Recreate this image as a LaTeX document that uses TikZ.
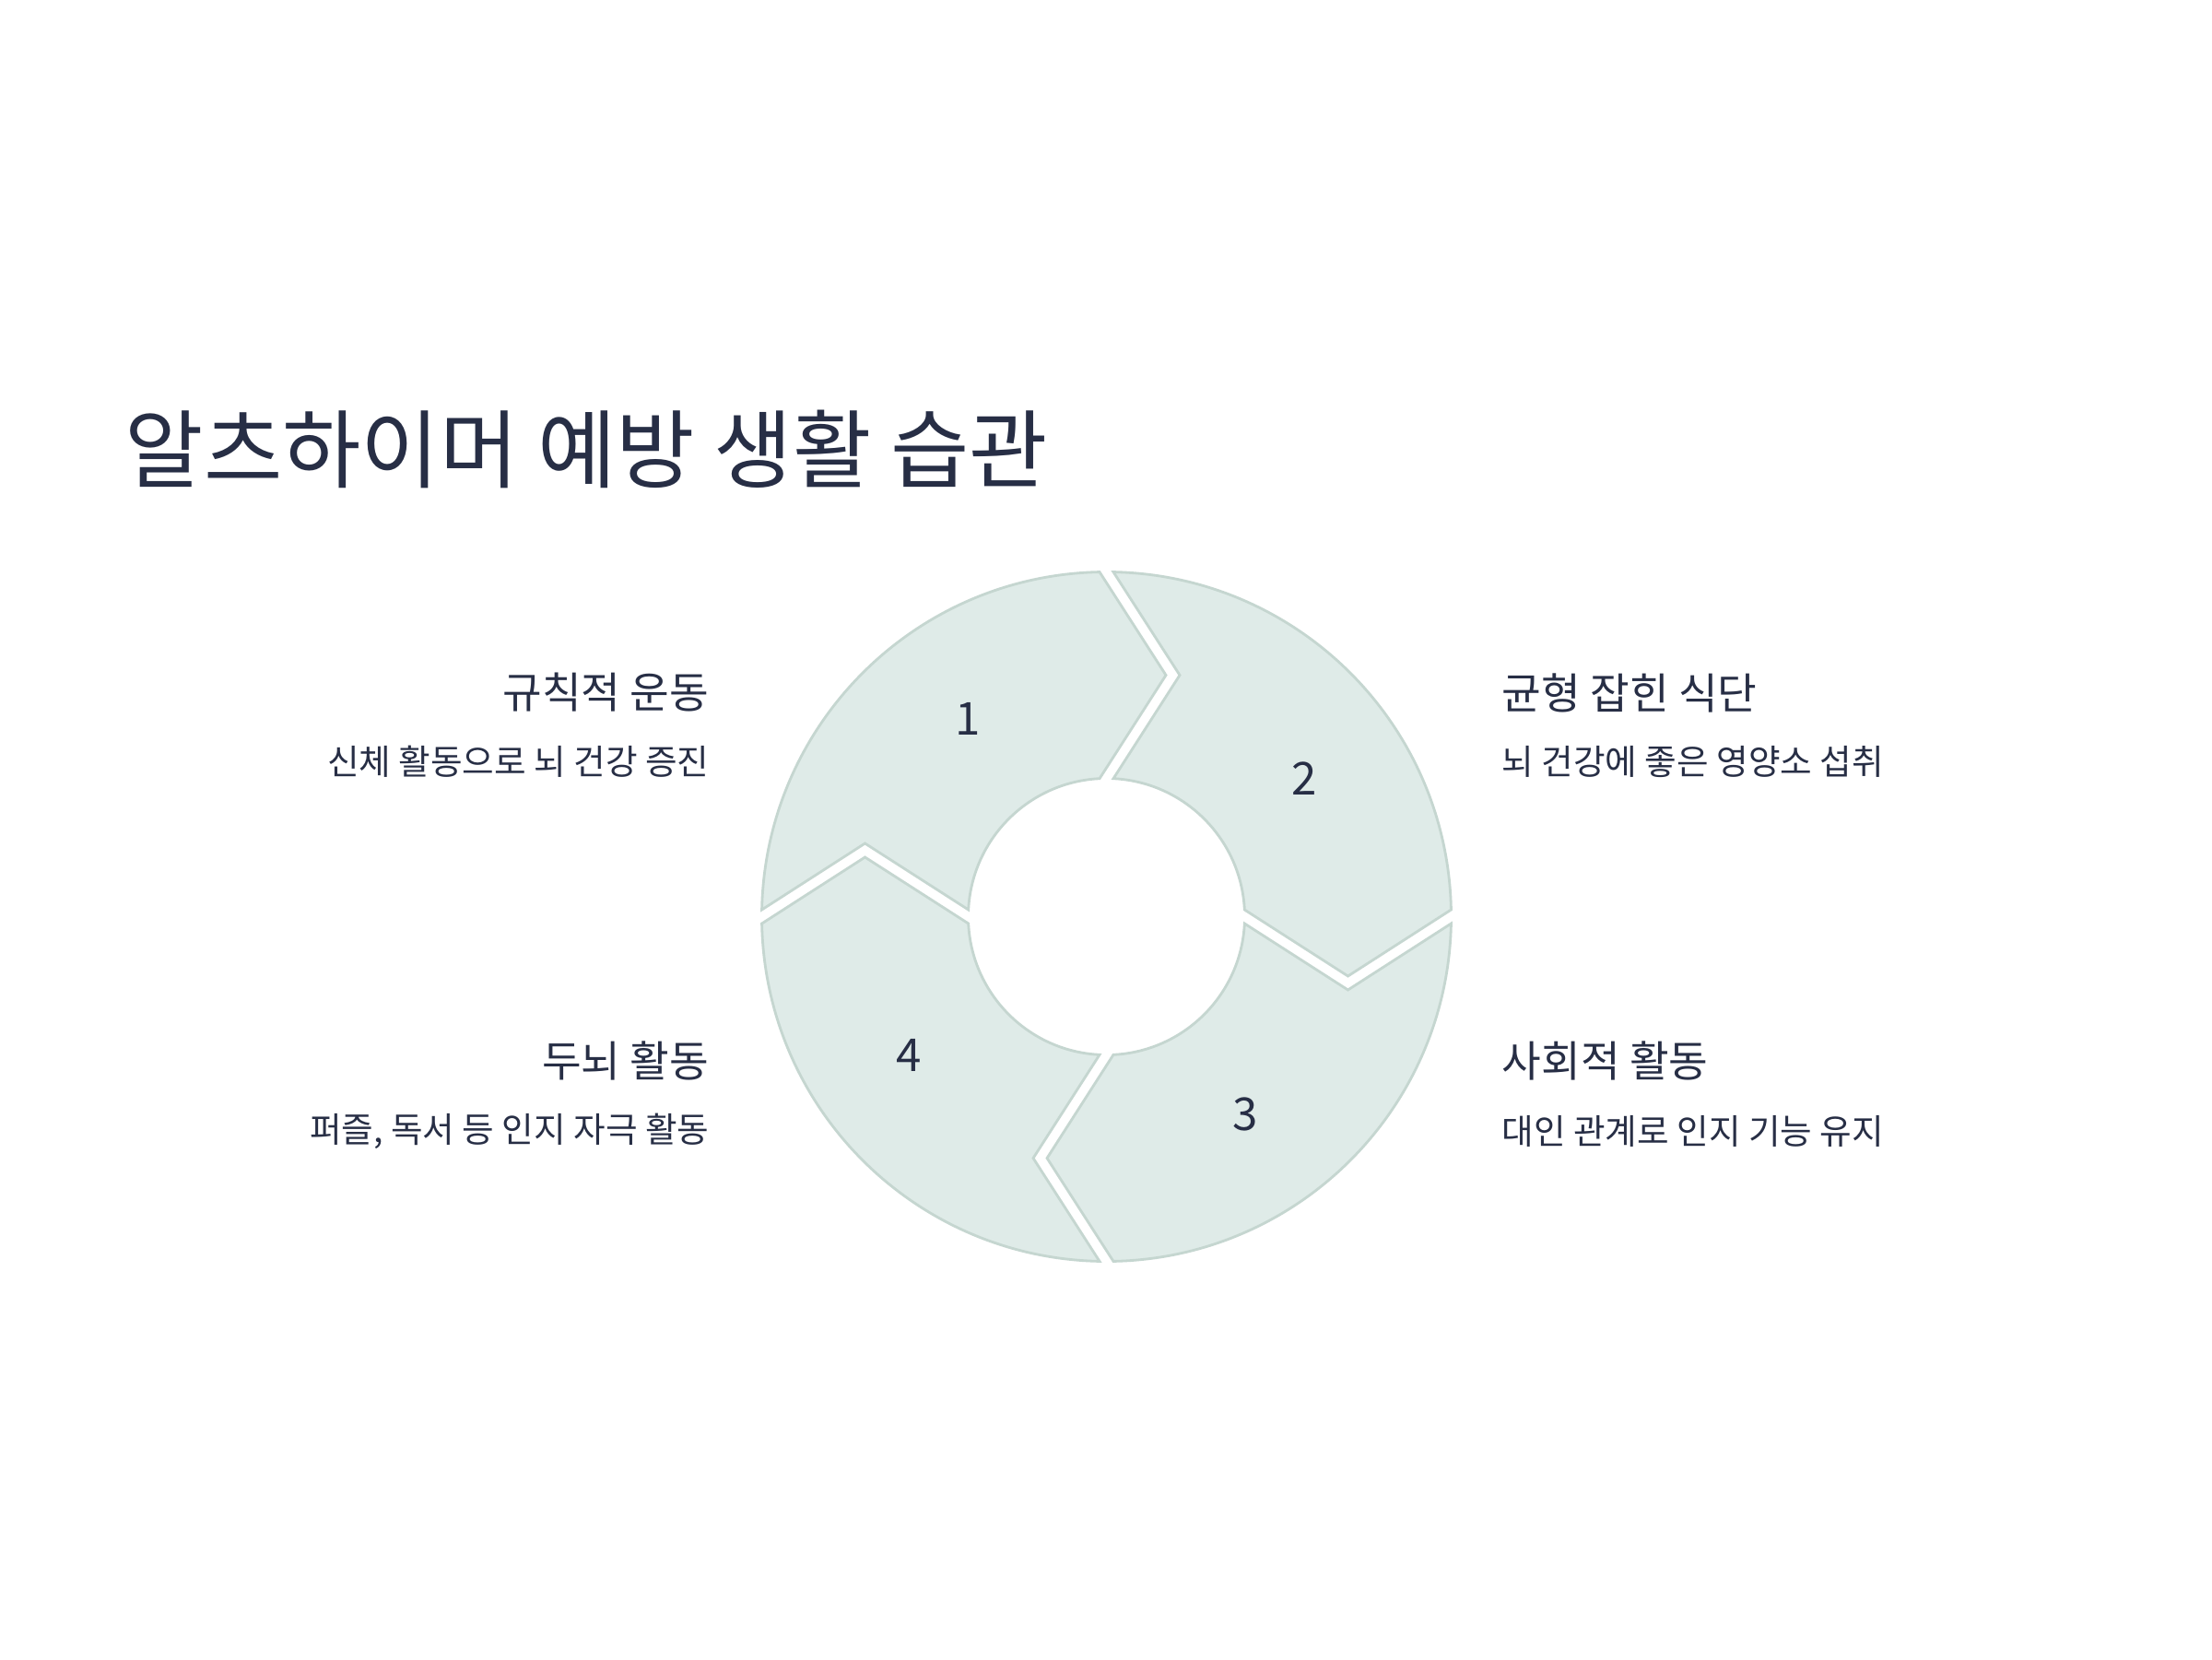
\documentclass[tikz,border=0pt]{standalone}
\usepackage{fontspec}
\setmainfont{Noto Sans CJK KR}
\usetikzlibrary{positioning}
\definecolor{ink}{HTML}{272E45}
\definecolor{segfill}{HTML}{DFEBE8}
\definecolor{segdraw}{HTML}{C5D6D0}
\tikzset{
  % 고리 조각
  seg/.style={draw=segdraw, fill=segfill, line width=0.8pt, line join=miter},
  % 조각 번호
  numlbl/.style={font=\fontsize{14}{16}\selectfont, text=ink, inner sep=0pt},
  % 제목
  maintitle/.style={font=\fontsize{26.4}{31}\selectfont, text=ink, inner sep=0pt},
  % 항목 제목과 설명
  itemhead/.style={font=\fontsize{13.2}{16}\selectfont, text=ink, inner sep=0pt},
  itemdesc/.style={font=\fontsize{10.7}{13}\selectfont, text=ink, inner sep=0pt},
}
\begin{document}
\begin{tikzpicture}
  \useasboundingbox (0,0) rectangle (24,18);
  \fill[white] (0,0) rectangle (24,18);
  \def\Rout{3.74}
  \def\Rin{1.5}
  \def\Rmid{2.62}
  \def\hgap{0.075}
  \def\tipoff{0.72}
  \coordinate (c) at (12.005,8.055);
  \foreach \i in {1,...,4}{
    \begin{scope}[shift={(c)}, rotate={-90*(\i-1)}]
      \path[seg] ({180-asin(\hgap/\Rout)}:\Rout)
        arc[start angle={180-asin(\hgap/\Rout)}, end angle={90+asin(\hgap/\Rout)}, radius=\Rout]
        -- ({\tipoff-\hgap},\Rmid)
        -- ({90+asin(\hgap/\Rin)}:\Rin)
        arc[start angle={90+asin(\hgap/\Rin)}, end angle={180-asin(\hgap/\Rin)}, radius=\Rin]
        -- (-\Rmid,{\tipoff+\hgap}) -- cycle;
      \node[numlbl] (num\i) at (125:\Rmid) {\i};
    \end{scope}
  }
  \node[maintitle, anchor=west] (ttl) at (1.35,13.13) {알츠하이머 예방 생활 습관};
  \node[itemhead, anchor=east] (h1) at (7.70,10.485) {규칙적 운동};
  \node[itemdesc, anchor=east] (d1) at (7.70,9.735) {신체 활동으로 뇌 건강 증진};
  \node[itemhead, anchor=west] (h2) at (16.29,10.485) {균형 잡힌 식단};
  \node[itemdesc, anchor=west] (d2) at (16.29,9.735) {뇌 건강에 좋은 영양소 섭취};
  \node[itemhead, anchor=west] (h3) at (16.29,6.49) {사회적 활동};
  \node[itemdesc, anchor=west] (d3) at (16.29,5.725) {대인 관계로 인지 기능 유지};
  \node[itemhead, anchor=east] (h4) at (7.70,6.49) {두뇌 활동};
  \node[itemdesc, anchor=east] (d4) at (7.70,5.725) {퍼즐, 독서 등 인지 자극 활동};
\end{tikzpicture}
\end{document}
